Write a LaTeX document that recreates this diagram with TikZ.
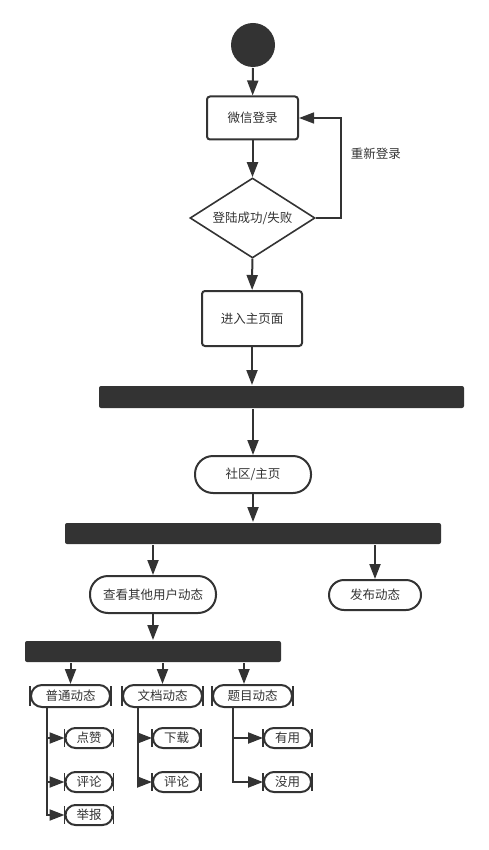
\documentclass[tikz,border=0pt]{standalone}
\usepackage{fontspec}
\setmainfont{Noto Sans CJK SC}
\usetikzlibrary{arrows.meta, shapes.geometric}
\definecolor{ink}{HTML}{333333}

\tikzset{
    box/.style={draw, rounded corners=3pt},
    act/.style={draw, rounded corners=11pt, minimum height=22pt, inner sep=1pt},
    bigact/.style={draw, rounded corners=18pt},
    bar/.style={fill=ink, rounded corners=2pt, inner sep=0pt},
}

\begin{document}
\begin{tikzpicture}[x=1pt, y=-1pt, line width=2pt, draw=ink, text=ink,
        >={Triangle[length=15pt, width=11pt]},
        font=\fontsize{12.5}{14}\selectfont]
    \useasboundingbox (0,0) rectangle (488,850);

    \node (start) at (253,45) [circle, fill=ink, minimum size=44pt, inner sep=0pt] {};
    \node (login) at (252.5,118) [box, minimum width=91pt, minimum height=43pt] {微信登录};
    \node (check) at (252.5,218) [draw, diamond, shape aspect=1.56, inner sep=0pt, line width=1.6pt,
        minimum width=125pt, minimum height=80pt] {登陆成功/失败};
    \node (home) at (252,318.5) [box, minimum width=100pt, minimum height=55pt] {进入主页面};
    \node (bar1) at (281.5,397) [bar, minimum width=365pt, minimum height=22pt] {};
    \node (community) at (253,474.5) [bigact, minimum width=116pt, minimum height=37pt] {社区/主页};
    \node (bar2) at (253,533.5) [bar, minimum width=376pt, minimum height=21pt] {};
    \node (others) at (153,594.5) [bigact, minimum width=126pt, minimum height=37pt] {查看其他用户动态};
    \node (post) at (375,595) [bigact, rounded corners=15pt, minimum width=92pt, minimum height=30pt] {发布动态};
    \node (bar3) at (153,651.5) [bar, minimum width=256pt, minimum height=21pt] {};

    % third level
    \foreach \position / \name / \text in {(70.5,696)/normal/普通动态, (162.5,696)/doc/文档动态, (252.5,696)/topic/题目动态}
        \node (\name) at \position [act, minimum width=79pt] {\text};

    % fourth level
    \foreach \position / \name / \text in {(89,738)/like/点赞, (89,782)/cmtA/评论, (89,815)/report/举报,
            (176.5,738)/download/下载, (176.5,782)/cmtB/评论,
            (287.5,738)/useful/有用, (287.5,782)/useless/没用}
        \node (\name) at \position [act, rounded corners=10pt, minimum width=47pt, minimum height=20pt] {\text};

    % end ticks
    \foreach \name in {normal, doc, topic, like, cmtA, report, download, cmtB, useful, useless} {
        \draw [line width=1.5pt] ([yshift=-2pt]\name.north west) -- ([yshift=2pt]\name.south west);
        \draw [line width=1.5pt] ([yshift=-2pt]\name.north east) -- ([yshift=2pt]\name.south east);
    }

    \draw [->] (start) -- (login);
    \draw [->] (login) -- (check);
    \draw [->, line width=1.5pt] (check.east) -- ++(25,0) |- node [pos=0.32, right=6pt] {重新登录} (login.east);
    \draw [->] (check) -- (home);
    \draw [->] (home) -- (home |- bar1.north);
    \draw [->] (community |- bar1.south) -- (community);
    \draw [->] (community) -- (bar2);
    \draw [->] (others |- bar2.south) -- (others);
    \draw [->] (post |- bar2.south) -- (post);
    \draw [->] (others) -- (bar3);

    \draw [->] (normal |- bar3.south) -- (normal);
    \draw [->] (doc |- bar3.south) -- (doc);
    \draw [->] ([xshift=-8.5pt]topic.north |- bar3.south) -- ([xshift=-8.5pt]topic.north);

    \draw [->] ([xshift=-24pt]normal.south) |- (like);
    \draw [->] ([xshift=-24pt]normal.south) |- (cmtA);
    \draw [->] ([xshift=-24pt]normal.south) |- (report);
    \draw [->] ([xshift=-24.5pt]doc.south) |- (download);
    \draw [->] ([xshift=-24.5pt]doc.south) |- (cmtB);
    \draw [->] ([xshift=-19.5pt]topic.south) |- (useful);
    \draw [->] ([xshift=-19.5pt]topic.south) |- (useless);
\end{tikzpicture}
\end{document}
